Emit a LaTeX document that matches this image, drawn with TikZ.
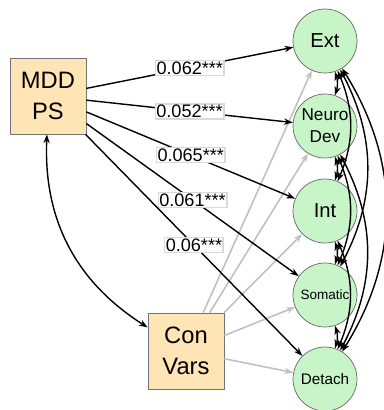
\documentclass[tikz,border=0pt]{standalone}
\usepackage{fontspec}
\setmainfont{Liberation Sans}
\usetikzlibrary{arrows.meta}
\definecolor{boxfill}{RGB}{255,228,181}
\definecolor{latfill}{RGB}{200,245,200}
\definecolor{ctlgray}{RGB}{192,192,192}
\tikzset{
  manifest/.style={draw=black!55,fill=boxfill,minimum size=1.52cm,inner sep=0pt,align=center,font=\fontsize{13.5}{17.6}\selectfont},
  latent/.style={circle,draw=black!60,fill=latfill,minimum size=1.28cm,inner sep=0pt,align=center},
  regpath/.style={-{Stealth[length=5pt,width=3.6pt]},line width=0.8pt},
  ctlpath/.style={-{Stealth[length=5pt,width=3.6pt]},line width=0.9pt,draw=ctlgray},
  covpath/.style={{Stealth[length=5pt,width=3.6pt]}-{Stealth[length=5pt,width=3.6pt]},line width=0.8pt},
  coef/.style={fill=white,draw=black!15,inner sep=0.6pt,font=\fontsize{10.3}{12}\selectfont}
}
\begin{document}
\begin{tikzpicture}[x=0.02cm,y=-0.02cm]
\useasboundingbox (0,0) rectangle (384,410);
% observed variables
\node[manifest] (mdd) at (48,96) {MDD\\PS};
\node[manifest] (con) at (186,351) {Con\\Vars};
% factors
\node[latent,font=\fontsize{11.5}{13}\selectfont] (ext) at (325,41) {Ext};
\node[latent,font=\fontsize{9.8}{12.5}\selectfont] (neu) at (325,126) {Neuro\\Dev};
\node[latent,font=\fontsize{11.5}{13}\selectfont] (int) at (325,211) {Int};
\node[latent,font=\fontsize{7.7}{9}\selectfont] (som) at (325,295) {Somatic};
\node[latent,font=\fontsize{8.7}{10}\selectfont] (det) at (325,379) {Detach};
% controls
\foreach \f in {ext,neu,int,som,det}
  \draw[ctlpath] (con) -- (\f);
% MDD PS effects
\draw[regpath] (mdd) -- node[coef]{0.062***} (ext);
\draw[regpath] (mdd) -- node[coef]{0.052***} (neu);
\draw[regpath] (mdd) -- node[coef]{0.065***} (int);
\draw[regpath] (mdd) -- node[coef]{0.061***} (som);
\draw[regpath] (mdd) -- node[coef]{0.06***} (det);
\draw[covpath] (mdd) to[bend right=30] (con);
% factor covariances
\draw[covpath] (ext) to[bend left=18] (neu);
\draw[covpath] (neu) to[bend left=18] (int);
\draw[covpath] (int) to[bend left=18] (som);
\draw[covpath] (som) to[bend left=18] (det);
\draw[covpath] (ext) to[bend left=23] (int);
\draw[covpath] (neu) to[bend left=23] (som);
\draw[covpath] (int) to[bend left=23] (det);
\draw[covpath] (ext) to[bend left=28] (som);
\draw[covpath] (neu) to[bend left=28] (det);
\draw[covpath] (ext) to[bend left=32] (det);
\end{tikzpicture}
\end{document}
